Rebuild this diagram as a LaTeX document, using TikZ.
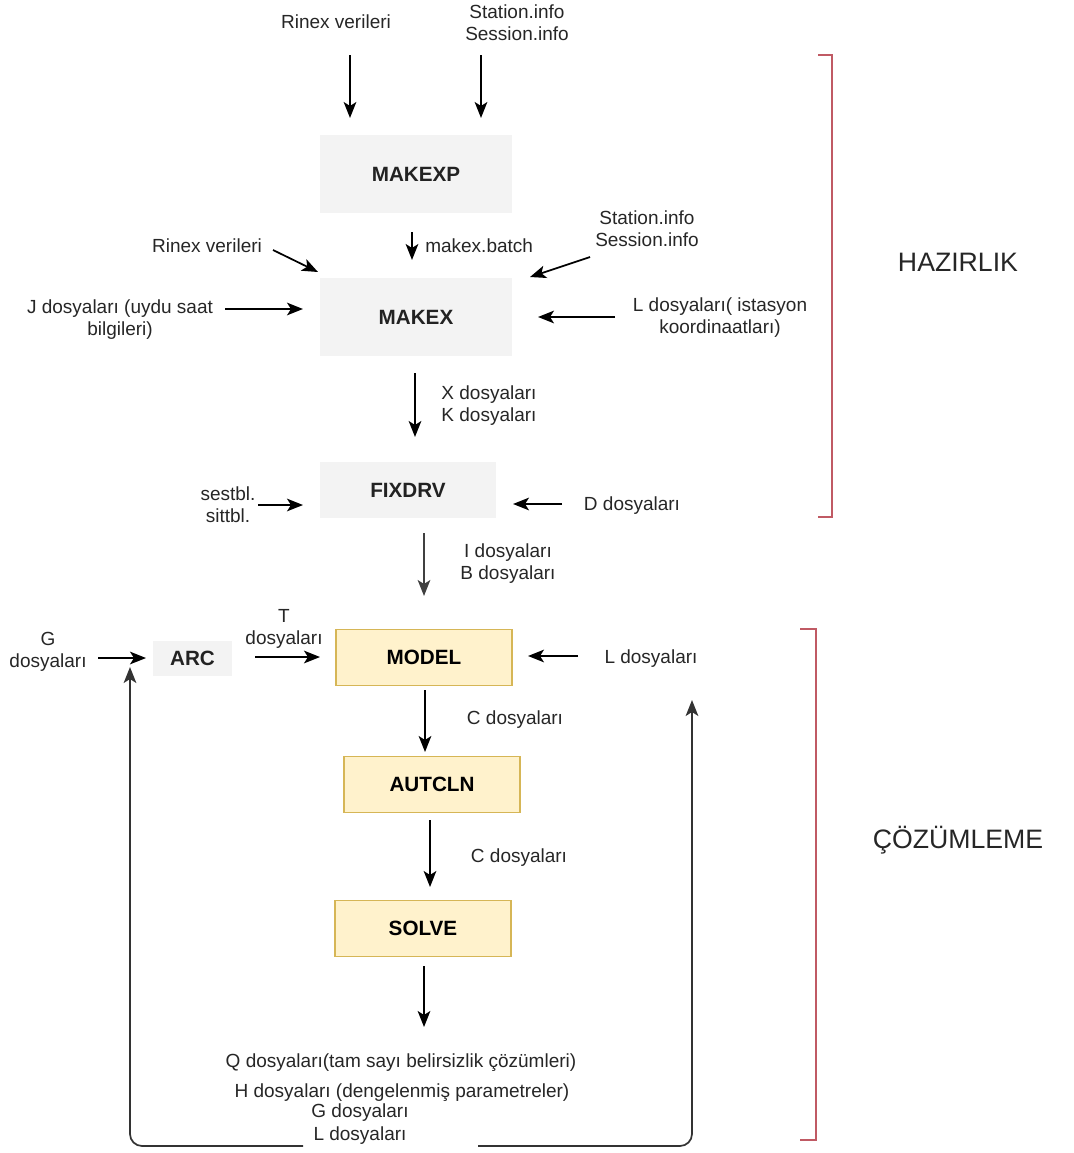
\documentclass[tikz,border=0pt]{standalone}
\usepackage{fontspec}
\setmainfont{Liberation Sans}
\usetikzlibrary{arrows.meta}
\definecolor{txt}{HTML}{262626}
\definecolor{grayfill}{HTML}{F3F3F3}
\definecolor{yelfill}{HTML}{FFF2CC}
\definecolor{yeldraw}{HTML}{D6B656}
\definecolor{brk}{HTML}{C05A64}
\tikzset{
  lbl/.style={inner sep=0pt, align=center, text=txt, font=\fontsize{14.25pt}{16.5pt}\selectfont},
  boxg/.style={fill=grayfill, draw=none, minimum width=#1, inner sep=0pt, text=txt!90!black, font=\fontsize{15.5pt}{18pt}\selectfont\bfseries},
  boxy/.style={fill=yelfill, draw=yeldraw, line width=0.8pt, minimum width=132pt, minimum height=42pt, inner sep=0pt, text=black, font=\fontsize{15.5pt}{18pt}\selectfont\bfseries},
  arr/.style={-{Stealth[length=12pt,width=9.5pt,inset=3pt]}, line width=1.3pt, black},
  fb/.style={-{Stealth[length=12pt,width=9.5pt,inset=3pt]}, line width=1.3pt, black!80, rounded corners=9pt},
  bracket/.style={draw=brk, line width=1.6pt},
  big/.style={inner sep=0pt, text=txt, font=\fontsize{20pt}{24pt}\selectfont},
}
\begin{document}
\begin{tikzpicture}[x=0.75pt,y=-0.75pt]
\useasboundingbox (0,0) rectangle (1074,1153);
% boxes
\node[boxg=144pt, minimum height=58.5pt] (makexp) at (416,174) {MAKEXP};
\node[boxg=144pt, minimum height=58.5pt] (makex) at (416,317) {MAKEX};
\node[boxg=132pt, minimum height=42pt] (fixdrv) at (408,490) {FIXDRV};
\node[boxg=59pt, minimum height=26pt] (arc) at (192.5,658.5) {ARC};
\node[boxy] (model) at (424,657.5) {MODEL};
\node[boxy] (autcln) at (432,784.5) {AUTCLN};
\node[boxy] (solve) at (423,928.5) {SOLVE};
% labels
\node[lbl] (rin1) at (336,22) {Rinex verileri};
\node[lbl] (st1) at (517,23) {Station.info\\Session.info};
\node[lbl, anchor=west] (batch) at (425,246) {makex.batch};
\node[lbl] (rin2) at (207,246) {Rinex verileri};
\node[lbl] (st2) at (647,229) {Station.info\\Session.info};
\node[lbl] (jd) at (120,320) {J dosyaları (uydu saat\\bilgileri)};
\node[lbl] (ld) at (720,318) {L dosyaları( istasyon\\koordinaatları)};
\node[lbl] (xk) at (489,406) {X dosyaları\\K dosyaları};
\node[lbl] (ses) at (228,505) {sestbl.\\sittbl.};
\node[lbl] (dd) at (632,506) {D dosyaları};
\node[lbl] (ib) at (508,564) {I dosyaları\\B dosyaları};
\node[lbl] (gd) at (48,652) {G\\dosyaları};
\node[lbl] (td) at (284,629) {T\\dosyaları};
\node[lbl] (ld2) at (651,659) {L dosyaları};
\node[lbl] (c1) at (515,720) {C dosyaları};
\node[lbl] (c2) at (519,858) {C dosyaları};
\node[lbl] (qd) at (401,1063) {Q dosyaları(tam sayı belirsizlik çözümleri)};
\node[lbl] (hd) at (402,1093) {H dosyaları (dengelenmiş parametreler)};
\node[lbl] (gd2) at (360,1113) {G dosyaları};
\node[lbl] (ld3) at (360,1136) {L dosyaları};
\node[big] (haz) at (958,262) {HAZIRLIK};
\node[big] (coz) at (958,840) {ÇÖZÜMLEME};
% coordinates for arrow ends
\coordinate (a1s) at (350,55);  \coordinate (a1e) at (350,118);
\coordinate (a2s) at (481,55);  \coordinate (a2e) at (481,118);
\coordinate (a3s) at (412,232); \coordinate (a3e) at (412,260);
\coordinate (a4s) at (273,250); \coordinate (a4e) at (318,272);
\coordinate (a5s) at (590,257); \coordinate (a5e) at (530,277);
\coordinate (a6s) at (225,309); \coordinate (a6e) at (303,309);
\coordinate (a7s) at (615,317); \coordinate (a7e) at (538,317);
\coordinate (a8s) at (415,373); \coordinate (a8e) at (415,437);
\coordinate (a9s) at (258,505); \coordinate (a9e) at (303,505);
\coordinate (a10s) at (562,504); \coordinate (a10e) at (513,504);
\coordinate (a11s) at (424,533); \coordinate (a11e) at (424,596);
\coordinate (a12s) at (98,658); \coordinate (a12e) at (146,658);
\coordinate (a13s) at (255,657); \coordinate (a13e) at (320,657);
\coordinate (a14s) at (578,656); \coordinate (a14e) at (528,656);
\coordinate (a15s) at (425,690); \coordinate (a15e) at (425,752);
\coordinate (a16s) at (430,820); \coordinate (a16e) at (430,887);
\coordinate (a17s) at (424,966); \coordinate (a17e) at (424,1027);
\coordinate (fbl) at (303,1146); \coordinate (fblc) at (130,1146); \coordinate (fble) at (130,667);
\coordinate (fbr) at (478,1146); \coordinate (fbrc) at (692,1146); \coordinate (fbre) at (692,700);
% arrows
\draw[arr] (a1s) -- (a1e);
\draw[arr] (a2s) -- (a2e);
\draw[arr] (a3s) -- (a3e);
\draw[arr] (a4s) -- (a4e);
\draw[arr] (a5s) -- (a5e);
\draw[arr] (a6s) -- (a6e);
\draw[arr] (a7s) -- (a7e);
\draw[arr] (a8s) -- (a8e);
\draw[arr] (a9s) -- (a9e);
\draw[arr] (a10s) -- (a10e);
\draw[arr, black!75] (a11s) -- (a11e);
\draw[arr] (a12s) -- (a12e);
\draw[arr] (a13s) -- (a13e);
\draw[arr] (a14s) -- (a14e);
\draw[arr] (a15s) -- (a15e);
\draw[arr] (a16s) -- (a16e);
\draw[arr] (a17s) -- (a17e);
\draw[fb] (fbl) -- (fblc) -- (fble);
\draw[fb] (fbr) -- (fbrc) -- (fbre);
% brackets
\coordinate (b1a) at (818,55); \coordinate (b1b) at (832,55); \coordinate (b1c) at (832,517); \coordinate (b1d) at (818,517);
\coordinate (b2a) at (800,629); \coordinate (b2b) at (816,629); \coordinate (b2c) at (816,1140); \coordinate (b2d) at (800,1140);
\draw[bracket] (b1a) -- (b1b) -- (b1c) -- (b1d);
\draw[bracket] (b2a) -- (b2b) -- (b2c) -- (b2d);
\end{tikzpicture}
\end{document}
